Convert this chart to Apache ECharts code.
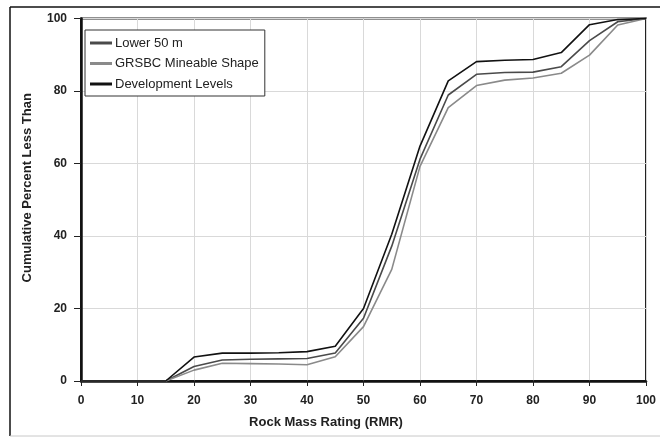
<!DOCTYPE html>
<html>
<head>
<meta charset="utf-8">
<script src="https://cdn.jsdelivr.net/npm/echarts@6/dist/echarts.min.js"></script>
<style>
  html, body { margin: 0; padding: 0; background: #fff; }
  #chart { width: 660px; height: 438px; }
</style>
</head>
<body>
<div id="chart"></div>
<script>
// Rock mass rating classes (RMR) and cumulative percentages
var rmr = [0, 5, 10, 15, 20, 25, 30, 35, 40, 45, 50, 55, 60, 65, 70, 75, 80, 85, 90, 95, 100];
var lower50 = [0, 0, 0, 0, 4.0, 5.8, 6.0, 6.1, 6.2, 7.7, 17.3, 37.2, 61.2, 78.9, 84.6, 85.1, 85.2, 86.7, 93.9, 99.1, 100];
var grsbc = [0, 0, 0, 0, 3.0, 4.9, 4.8, 4.7, 4.5, 6.7, 15.0, 30.8, 59.2, 75.4, 81.5, 83.0, 83.6, 84.9, 89.9, 98.2, 100];
var development = [0, 0, 0, 0, 6.6, 7.7, 7.7, 7.8, 8.1, 9.6, 20.0, 40.5, 64.8, 82.8, 88.1, 88.5, 88.7, 90.6, 98.3, 99.7, 100];

var seriesNames = ['Lower 50 m', 'GRSBC Mineable Shape', 'Development Levels'];
var seriesColors = ['#4a4a4a', '#8a8a8a', '#111111'];
var seriesData = [lower50, grsbc, development];

function pairs(xs, ys) {
  return xs.map(function (x, i) { return [x, ys[i]]; });
}

var font = '"Liberation Sans", Arial, Helvetica, sans-serif';

var chart = echarts.init(document.getElementById('chart'), null, { renderer: 'canvas' });
chart.setOption({
  backgroundColor: '#fff',
  animation: false,
  grid: {
    left: 81, right: 14, top: 18.5, bottom: 57,
    show: true, borderColor: '#222', borderWidth: 2, backgroundColor: 'transparent'
  },
  legend: {
    orient: 'vertical',
    left: 85, top: 30,
    icon: 'rect',
    itemWidth: 22, itemHeight: 3, itemGap: 7.5,
    padding: [6.5, 6, 5.5, 5],
    backgroundColor: '#fff',
    borderColor: '#333', borderWidth: 1,
    textStyle: { fontFamily: font, fontSize: 13, color: '#222', padding: [0, 0, 0, -2] },
    data: seriesNames
  },
  xAxis: {
    type: 'value', min: 0, max: 100, interval: 10,
    name: 'Rock Mass Rating (RMR)',
    nameLocation: 'middle', nameGap: 35,
    nameTextStyle: { fontFamily: font, fontSize: 13, fontWeight: 'bold', color: '#222', padding: [0, 75, 0, 0] },
    axisLine: { show: true, onZero: false, lineStyle: { color: '#111', width: 2.5 } },
    axisTick: { show: true, length: 5, lineStyle: { color: '#222', width: 1 } },
    axisLabel: { fontFamily: font, fontSize: 12, fontWeight: 'bold', color: '#222', margin: 14 },
    splitLine: { show: true, lineStyle: { color: '#d9d9d9', width: 1 } }
  },
  yAxis: {
    type: 'value', min: 0, max: 100, interval: 20,
    name: 'Cumulative Percent Less Than',
    nameLocation: 'middle', nameGap: 47,
    nameTextStyle: { fontFamily: font, fontSize: 13, fontWeight: 'bold', color: '#222', padding: [0, 0, 0, 24] },
    axisLine: { show: true, onZero: false, lineStyle: { color: '#111', width: 2.5 } },
    axisTick: { show: true, length: 7, lineStyle: { color: '#222', width: 1 } },
    axisLabel: { fontFamily: font, fontSize: 12, fontWeight: 'bold', color: '#222', margin: 14 },
    splitLine: { show: true, lineStyle: { color: '#d9d9d9', width: 1 } }
  },
  graphic: [
    { type: 'line', shape: { x1: 10, y1: 7, x2: 10, y2: 436 }, style: { stroke: '#111', lineWidth: 1.5 }, silent: true },
    { type: 'line', shape: { x1: 10, y1: 7, x2: 660, y2: 7 }, style: { stroke: '#111', lineWidth: 1.5 }, silent: true },
    { type: 'line', shape: { x1: 10, y1: 436, x2: 660, y2: 436 }, style: { stroke: '#c8c8c8', lineWidth: 1 }, silent: true }
  ],
  series: seriesNames.map(function (name, i) {
    return {
      name: name,
      type: 'line',
      data: pairs(rmr, seriesData[i]),
      showSymbol: false,
      symbol: 'none',
      clip: false,
      color: seriesColors[i],
      lineStyle: { color: seriesColors[i], width: 1.6 },
      z: 3 + i
    };
  })
});
</script>
</body>
</html>
